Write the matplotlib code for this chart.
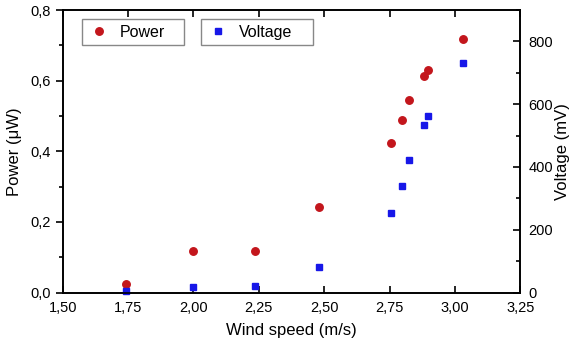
import matplotlib.pyplot as plt
from matplotlib.ticker import MultipleLocator, FuncFormatter

plt.rcParams['font.family'] = ['Liberation Sans', 'DejaVu Sans']

# data
wind_speed = [1.74, 2.00, 2.236, 2.48, 2.754, 2.796, 2.823, 2.883, 2.898, 3.031]
power_uw = [0.025, 0.118, 0.119, 0.242, 0.423, 0.489, 0.544, 0.613, 0.629, 0.717]
voltage_mv = [4, 19, 20, 83, 254, 339, 421, 534, 563, 732]

x_ticks = [1.50, 1.75, 2.00, 2.25, 2.50, 2.75, 3.00, 3.25]
power_ticks = [0.0, 0.2, 0.4, 0.6, 0.8]
voltage_ticks = [0, 200, 400, 600, 800]


def comma_fmt(decimals):
    """
    Decimal comma tick labels
    """
    return FuncFormatter(lambda v, pos: f"{v:.{decimals}f}".replace('.', ','))


def main():
    fig = plt.figure(figsize=(5.71, 3.45), dpi=100)
    ax = fig.add_axes([0.110, 0.152, 0.801, 0.819])
    ax2 = ax.twinx()

    ax.plot(wind_speed, power_uw, 'o', color='#c3161c', markersize=5.4,
            label='Power', clip_on=False)
    ax2.plot(wind_speed, voltage_mv, 's', color='#1717e8', markersize=4.8,
             label='Voltage', clip_on=False)

    ax.set_xlim(1.50, 3.25)
    ax.set_ylim(0, 0.8)
    ax2.set_ylim(0, 900)

    ax.set_xticks(x_ticks)
    ax.set_yticks(power_ticks)
    ax.yaxis.set_minor_locator(MultipleLocator(0.1))
    ax2.set_yticks(voltage_ticks)
    ax2.yaxis.set_minor_locator(MultipleLocator(100))
    ax.xaxis.set_major_formatter(comma_fmt(2))
    ax.yaxis.set_major_formatter(comma_fmt(1))

    ax.tick_params(axis='x', which='both', direction='in', top=True,
                   length=5, width=1.2, labelsize=10.5, pad=6)
    ax.tick_params(axis='y', which='major', direction='out', length=5,
                   width=1.2, labelsize=10.5)
    ax.tick_params(axis='y', which='minor', direction='out', length=3,
                   width=1.2)
    ax2.tick_params(axis='y', which='major', direction='in', length=5,
                    width=1.2, labelsize=10.5, pad=6)
    ax2.tick_params(axis='y', which='minor', direction='in', length=3,
                    width=1.2)
    for a in (ax, ax2):
        for s in a.spines.values():
            s.set_linewidth(1.2)

    ax.set_xlabel("Wind speed (m/s)", fontsize=12, labelpad=6)
    ax.set_ylabel("Power (\u03bcW)", fontsize=12, labelpad=6)
    ax2.set_ylabel("Voltage (mV)", fontsize=12, rotation=90, labelpad=1)

    leg_kw = dict(loc='upper left', mode='expand', borderaxespad=0,
                  fancybox=False, framealpha=1, edgecolor='#888888',
                  fontsize=11.5, handletextpad=0.6, borderpad=0.35,
                  handlelength=1.4)
    leg1 = ax.legend(bbox_to_anchor=(0.042, 0.88, 0.223, 0.088), **leg_kw)
    leg2 = ax2.legend(bbox_to_anchor=(0.302, 0.88, 0.245, 0.088), **leg_kw)
    for leg in (leg1, leg2):
        leg.get_frame().set_linewidth(1.0)

    fig.savefig("out.png", dpi=100)


if __name__ == '__main__':
    main()
